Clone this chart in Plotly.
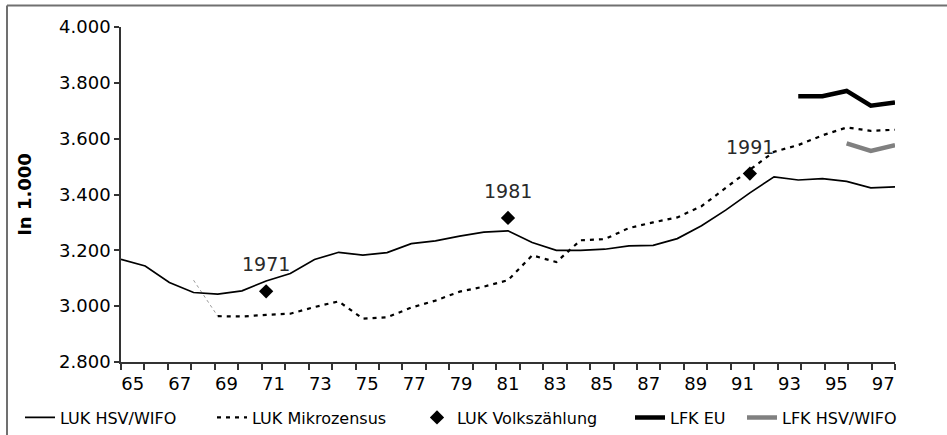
import plotly.graph_objects as go

# ---------------- data ----------------
years = list(range(1965, 1998))
luk_hsv_wifo = [3168, 3144, 3085, 3049, 3043, 3055, 3090, 3117, 3167, 3193, 3183,
                3192, 3224, 3234, 3251, 3265, 3270, 3228, 3200, 3200, 3204, 3216,
                3218, 3242, 3288, 3344, 3406, 3463, 3452, 3457, 3447, 3424, 3427]

mikro_years = list(range(1969, 1998))
luk_mikrozensus = [2964, 2963, 2969, 2973, 2997, 3017, 2955, 2960, 2995, 3020,
                   3052, 3070, 3093, 3182, 3158, 3236, 3240, 3280, 3300, 3318,
                   3358, 3425, 3489, 3553, 3577, 3612, 3640, 3628, 3632]
mikro_break_years = [1968, 1969]
mikro_break_values = [3093, 2964]

census_years = [1971, 1981, 1991]
luk_volkszaehlung = [3053, 3316, 3475]
census_labels = ["1971", "1981", "1991"]

lfk_eu_years = [1993, 1994, 1995, 1996, 1997]
lfk_eu = [3752, 3752, 3771, 3718, 3730]

lfk_hsv_years = [1995, 1996, 1997]
lfk_hsv_wifo = [3583, 3556, 3577]

label_years = list(range(1965, 1998, 2))
tick_labels = ["65", "67", "69", "71", "73", "75", "77", "79", "81",
               "83", "85", "87", "89", "91", "93", "95", "97"]

y_ticks = [2800, 3000, 3200, 3400, 3600, 3800, 4000]

# ---------------- layout constants ----------------
W, H = 947, 435
L, R, T, B = 121, 52, 27, 73
PW, PH = W - L - R, H - T - B
FONT = "DejaVu Sans"
AX = "#333333"

# category band axis (labels between tick marks) over the data range
x_lo, x_hi = years[0], years[-1]
band = (x_hi - x_lo) / len(years)
label_pos = [x_lo + (years.index(y) + 0.5) * band for y in label_years]
boundary_pos = [x_lo + k * band for k in range(len(years) + 1)]


def px_x(px):
    return (px - L) / PW


def px_y(py):
    return (H - B - py) / PH


fig = go.Figure()

fig.add_trace(go.Scatter(
    x=mikro_break_years, y=mikro_break_values, mode="lines",
    line=dict(color="#9a9a9a", width=1, dash="3px,3px"),
    showlegend=False, hoverinfo="skip"))

fig.add_trace(go.Scatter(
    x=years, y=luk_hsv_wifo, mode="lines", name="LUK HSV/WIFO",
    line=dict(color="#000000", width=1.7), legend="legend"))

fig.add_trace(go.Scatter(
    x=mikro_years, y=luk_mikrozensus, mode="lines", name="LUK Mikrozensus",
    line=dict(color="#000000", width=2.2, dash="4px,5px"), legend="legend2"))

fig.add_trace(go.Scatter(
    x=census_years, y=luk_volkszaehlung, mode="markers", name="LUK Volkszählung",
    marker=dict(symbol="diamond", size=11, color="#000000"), legend="legend3"))

fig.add_trace(go.Scatter(
    x=lfk_eu_years, y=lfk_eu, mode="lines", name="LFK EU",
    line=dict(color="#000000", width=4.5), legend="legend4"))

fig.add_trace(go.Scatter(
    x=lfk_hsv_years, y=lfk_hsv_wifo, mode="lines", name="LFK HSV/WIFO",
    line=dict(color="#808080", width=4.5), legend="legend5"))

for yr, val, txt in zip(census_years, luk_volkszaehlung, census_labels):
    fig.add_annotation(x=yr, y=val, text=txt, showarrow=False, yshift=27,
                       font=dict(family=FONT, size=19, color="#2a2a2a"))

legend_text_px = [60, 252, 457, 670, 782]
legend_y_px = 417.5
legend_common = dict(orientation="h", xref="paper", yref="paper",
                     xanchor="left", yanchor="middle", bgcolor="rgba(0,0,0,0)",
                     font=dict(family=FONT, size=16, color="#000000"),
                     borderwidth=0)
legends = {}
for i, tx in enumerate(legend_text_px):
    key = "legend" if i == 0 else f"legend{i + 1}"
    legends[key] = dict(legend_common, x=px_x(tx - 40), y=px_y(legend_y_px))

shapes = [
    dict(type="line", xref="paper", yref="paper", x0=px_x(7), x1=px_x(W + 2),
         y0=px_y(5.5), y1=px_y(5.5), line=dict(color="#707070", width=2)),
    dict(type="line", xref="paper", yref="paper", x0=px_x(7), x1=px_x(7),
         y0=px_y(5.5), y1=px_y(H + 2), line=dict(color="#707070", width=2)),
]

fig.update_layout(
    width=W, height=H,
    margin=dict(l=L, r=R, t=T, b=B, pad=0, autoexpand=False),
    paper_bgcolor="#ffffff", plot_bgcolor="#ffffff",
    font=dict(family=FONT, size=18, color="#000000"),
    separators=",.",
    showlegend=True,
    shapes=shapes,
    xaxis=dict(
        range=[x_lo, x_hi],
        tickmode="array", tickvals=label_pos, ticktext=tick_labels,
        ticks="outside", ticklen=5, tickcolor="rgba(0,0,0,0)",
        showline=True, linecolor=AX, linewidth=1.5,
        showgrid=False, zeroline=False,
        tickfont=dict(family=FONT, size=18, color="#000000"),
        minor=dict(tickmode="array", tickvals=boundary_pos,
                   ticks="outside", ticklen=6, tickwidth=1.5, tickcolor=AX,
                   showgrid=False),
    ),
    yaxis=dict(
        range=[2800, 4000], tickmode="array", tickvals=y_ticks,
        tickformat=",d", ticks="outside", ticklen=5, tickwidth=1.5,
        tickcolor=AX, showline=True, linecolor=AX, linewidth=1.5,
        showgrid=False, zeroline=False,
        tickfont=dict(family=FONT, size=18, color="#000000"),
        title=dict(text="<b>In 1.000</b>", standoff=23,
                   font=dict(family=FONT, size=18, color="#000000")),
    ),
    **legends,
)

fig.write_html("out.html", config={"displayModeBar": False},
               post_script="document.body.style.margin='0';")
